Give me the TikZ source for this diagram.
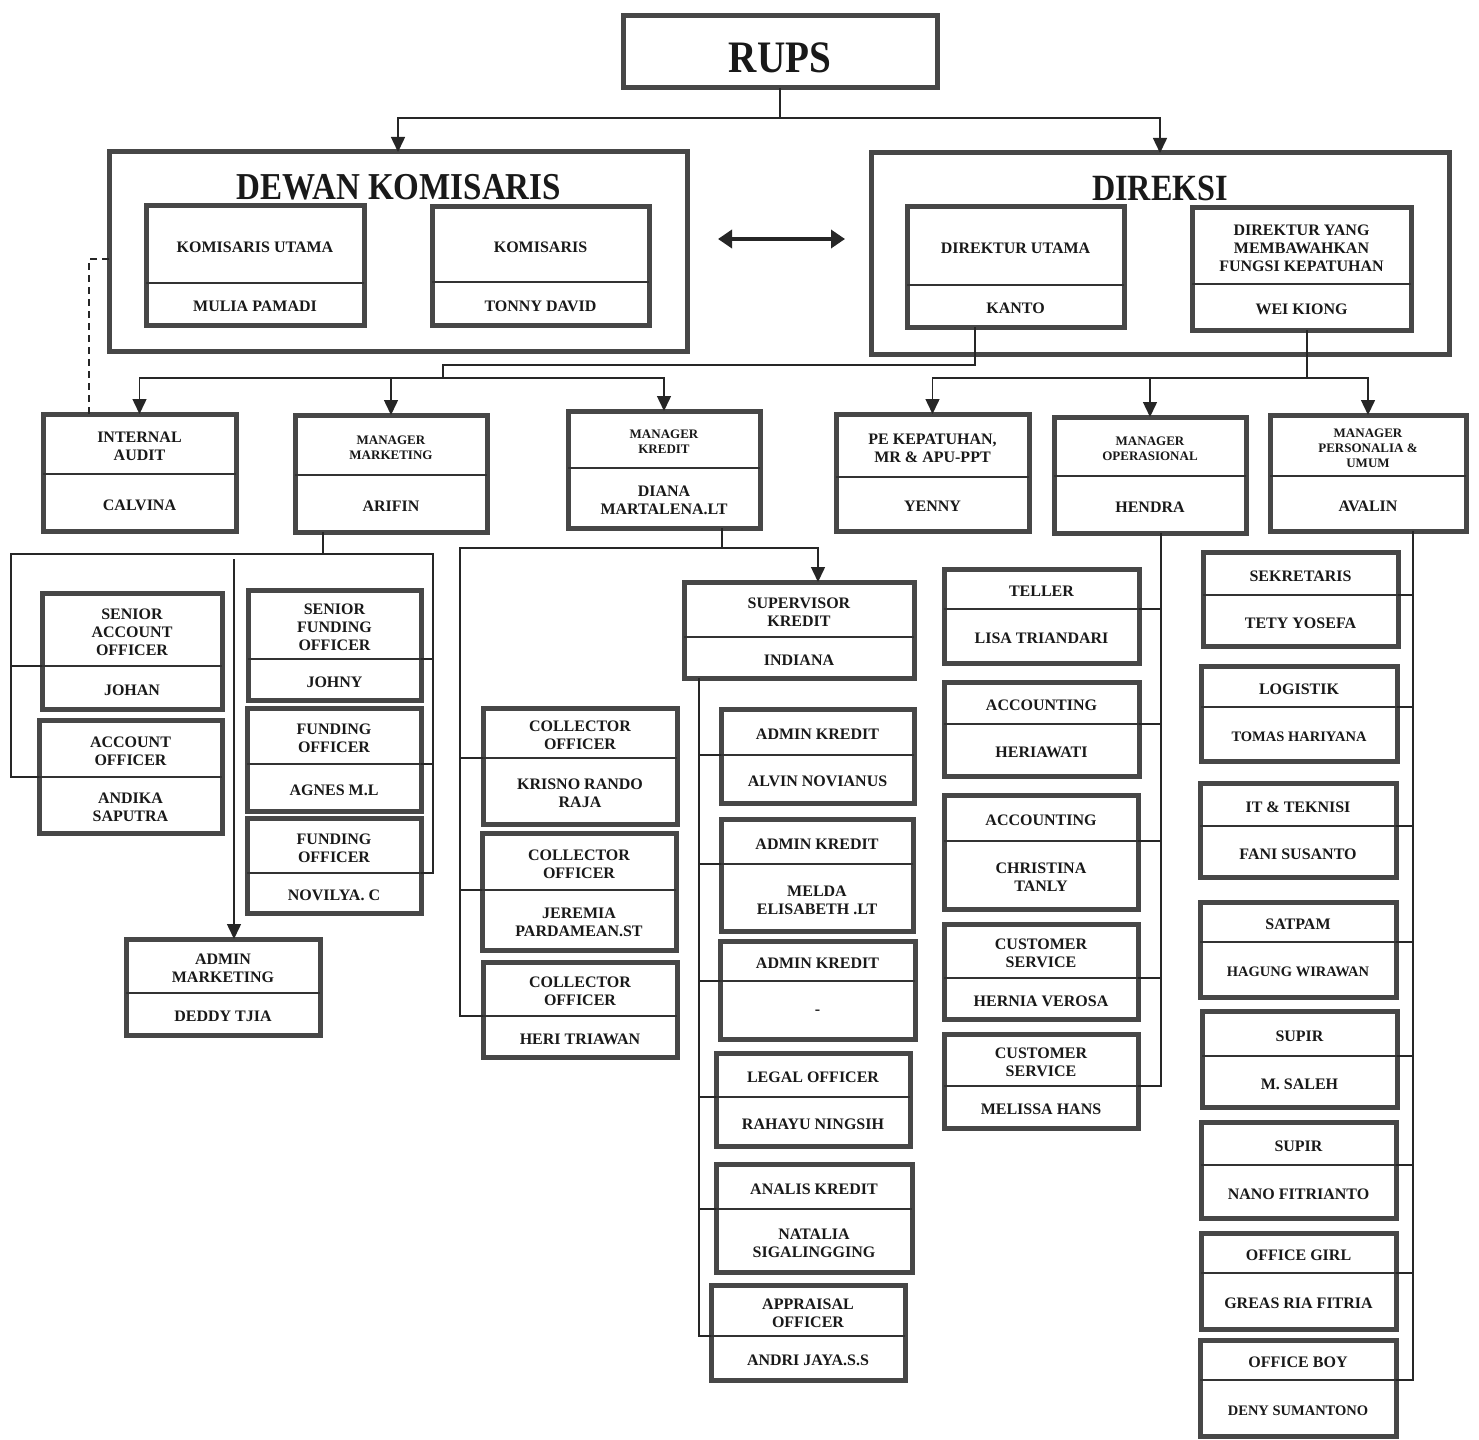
\documentclass[tikz,border=0pt]{standalone}
\usepackage{fontspec}
\setmainfont{Liberation Serif}
\newfontfamily\headfont[FakeStretch=0.87]{Liberation Serif}
\usetikzlibrary{arrows.meta,positioning}

\tikzset{
  frame/.style={draw=black!72, line width=5pt, fill=white, inner sep=0pt, outer sep=0pt},
  divider/.style={draw=black!80, line width=1.8pt},
  lbl/.style={align=center, inner sep=0pt, yshift=-2.5pt, text=black!90, font=\bfseries\fontsize{16}{18}\selectfont},
  link/.style={draw=black!85, line width=1.5pt},
  tip/.style={link, -{Triangle[width=14pt,length=15pt]}},
}
\newcommand{\mgr}{\fontsize{13}{15}\selectfont}
\newcommand{\sm}{\fontsize{14.5}{17}\selectfont}

% [title font] id, x1, y1, x2, y2, divider y, title, name
\newcommand{\jabatan}[9][]{%
  \node[frame, minimum width={(#5-#3)*1pt}, minimum height={(#6-#4)*1pt}] (#2) at ({(#3+#5)/2},{(#4+#6)/2}) {};
  \coordinate (#2-w) at (#3,#7);
  \coordinate (#2-e) at (#5,#7);
  \draw[divider] (#2-w) -- (#2-e);
  \node[lbl,#1] (#2-t) at ({(#3+#5)/2},{(#4+#7)/2}) {#8};
  \node[lbl] (#2-n) at ({(#3+#5)/2},{(#7+#6)/2}) {#9};
}

\begin{document}
\begin{tikzpicture}[x=1pt, y=-1pt]
\useasboundingbox (0,0) rectangle (1479,1439);

% top
\node[frame, minimum width=314pt, minimum height=72pt] (rups) at (780,52) {};
\node[lbl, font=\headfont\bfseries\fontsize{45}{48}\selectfont] (rups-t) at (780,55) {RUPS};

\node[frame, minimum width=578pt, minimum height=199pt] (dk) at (398,251.5) {};
\node[lbl, font=\headfont\bfseries\fontsize{38}{40}\selectfont] (dk-t) at (399,185) {DEWAN KOMISARIS};
\node[frame, minimum width=578pt, minimum height=201pt] (dr) at (1160,253.5) {};
\node[lbl, font=\headfont\bfseries\fontsize{37}{40}\selectfont] (dr-t) at (1160,186) {DIREKSI};

\jabatan{ku}{146}{206}{364}{325}{283}{KOMISARIS UTAMA}{MULIA PAMADI}
\jabatan{km}{432}{207}{649}{325}{282}{KOMISARIS}{TONNY DAVID}
\jabatan{du}{907}{207}{1124}{327}{285}{DIREKTUR UTAMA}{KANTO}
\jabatan{wk}{1192}{208}{1411}{330}{284}{DIREKTUR YANG\\MEMBAWAHKAN\\FUNGSI KEPATUHAN}{WEI KIONG}

% managers
\jabatan{ia}{43}{414}{236}{531}{474}{INTERNAL\\AUDIT}{CALVINA}
\jabatan[font=\bfseries\mgr]{mm}{295}{415}{487}{532}{475}{MANAGER\\MARKETING}{ARIFIN}
\jabatan[font=\bfseries\mgr]{mk}{568}{411}{760}{528}{468}{MANAGER\\KREDIT}{DIANA\\MARTALENA.LT}
\jabatan{pe}{836}{414}{1029}{531}{477}{PE KEPATUHAN,\\MR \& APU-PPT}{YENNY}
\jabatan[font=\bfseries\mgr]{mo}{1054}{417}{1246}{533}{476}{MANAGER\\OPERASIONAL}{HENDRA}
\jabatan[font=\bfseries\mgr]{mp}{1270}{415}{1466}{531}{476}{MANAGER\\PERSONALIA \&\\UMUM}{AVALIN}

% marketing
\jabatan{sao}{42}{593}{222}{709}{666}{SENIOR\\ACCOUNT\\OFFICER}{JOHAN}
\jabatan{ao}{39}{720}{222}{833}{777}{ACCOUNT\\OFFICER}{ANDIKA\\SAPUTRA}
\jabatan{sfo}{248}{590}{421}{700}{659}{SENIOR\\FUNDING\\OFFICER}{JOHNY}
\jabatan{fo1}{247}{708}{421}{811}{764}{FUNDING\\OFFICER}{AGNES M.L}
\jabatan{fo2}{247}{818}{421}{913}{873}{FUNDING\\OFFICER}{NOVILYA. C}
\jabatan{am}{126}{939}{320}{1035}{993}{ADMIN\\MARKETING}{DEDDY TJIA}

% kredit
\jabatan{sk}{684}{582}{914}{678}{637}{SUPERVISOR\\KREDIT}{INDIANA}
\jabatan{co1}{483}{708}{677}{824}{758}{COLLECTOR\\OFFICER}{KRISNO RANDO\\RAJA}
\jabatan{co2}{482}{833}{676}{950}{890}{COLLECTOR\\OFFICER}{JEREMIA\\PARDAMEAN.ST}
\jabatan{co3}{483}{962}{677}{1057}{1016}{COLLECTOR\\OFFICER}{HERI TRIAWAN}
\jabatan{ak1}{721}{709}{914}{803}{755}{ADMIN KREDIT}{ALVIN NOVIANUS}
\jabatan{ak2}{721}{819}{913}{931}{864}{ADMIN KREDIT}{MELDA\\ELISABETH .LT}
\jabatan{ak3}{720}{941}{915}{1039}{981}{ADMIN KREDIT}{-}
\jabatan{lo}{716}{1053}{910}{1146}{1097}{LEGAL OFFICER}{RAHAYU NINGSIH}
\jabatan{an}{716}{1164}{912}{1272}{1209}{ANALIS KREDIT}{NATALIA\\SIGALINGGING}
\jabatan{ap}{711}{1285}{905}{1380}{1336}{APPRAISAL\\OFFICER}{ANDRI JAYA.S.S}

% operasional
\jabatan{tl}{944}{569}{1139}{663}{609}{TELLER}{LISA TRIANDARI}
\jabatan{ac1}{944}{682}{1139}{776}{724}{ACCOUNTING}{HERIAWATI}
\jabatan{ac2}{944}{795}{1138}{909}{841}{ACCOUNTING}{CHRISTINA\\TANLY}
\jabatan{cs1}{944}{924}{1138}{1019}{978}{CUSTOMER\\SERVICE}{HERNIA VEROSA}
\jabatan{cs2}{944}{1034}{1138}{1128}{1086}{CUSTOMER\\SERVICE}{MELISSA HANS}

% personalia & umum
\jabatan{sek}{1203}{552}{1398}{646}{595}{SEKRETARIS}{TETY YOSEFA}
\jabatan{log}{1201}{666}{1397}{761}{707}{LOGISTIK}{\sm TOMAS HARIYANA}
\jabatan{it}{1200}{783}{1396}{877}{826}{IT \& TEKNISI}{FANI SUSANTO}
\jabatan{sat}{1200}{902}{1396}{997}{942}{SATPAM}{\sm HAGUNG WIRAWAN}
\jabatan{sp1}{1202}{1011}{1397}{1107}{1056}{SUPIR}{M. SALEH}
\jabatan{sp2}{1201}{1122}{1396}{1218}{1165}{SUPIR}{NANO FITRIANTO}
\jabatan{og}{1201}{1233}{1396}{1329}{1273}{OFFICE GIRL}{GREAS RIA FITRIA}
\jabatan{ob}{1200}{1340}{1396}{1436}{1380}{OFFICE BOY}{\sm DENY SUMANTONO}

% rups to boards
\coordinate (r0) at (780,118);
\draw[link] (rups.south) -- (r0);
\draw[tip] (r0) -| (dk.north);
\draw[tip] (r0) -| (dr.north);
\coordinate (bd-l) at (718,239);
\coordinate (bd-r) at (845,239);
\draw[link, line width=3.5pt, {Triangle[width=18pt,length=14pt]}-{Triangle[width=18pt,length=14pt]}] (bd-l) -- (bd-r);
\coordinate (dk-a) at (109,259);
\coordinate (ia-a) at (89,414);
\draw[link, dash pattern=on 7pt off 5pt] (dk-a) -| (ia-a);

% direksi to managers
\coordinate (j1) at (975,365);
\coordinate (j2) at (443,365);
\coordinate (j3) at (443,378);
\draw[link] (du.south -| j1) -- (j1) -- (j2) -- (j3);
\draw[tip] (j3) -| (ia.north);
\draw[tip] (j3) -| (mm.north);
\draw[tip] (j3) -| (mk.north);
\coordinate (j4) at (1307,378);
\draw[link] (wk.south -| j4) -- (j4);
\draw[tip] (j4) -| (pe.north);
\draw[tip] (j4) -| (mo.north);
\draw[tip] (j4) -| (mp.north);

% marketing lines
\coordinate (m0) at (323,554);
\coordinate (ml) at (11,554);
\coordinate (mr) at (433,554);
\draw[link] (mm.south -| m0) -- (m0);
\draw[link] (ao-w) -| (ml) -- (mr) |- (fo2-e);
\draw[link] (sao-w -| ml) -- (sao-w);
\draw[link] (sfo-e -| mr) -- (sfo-e);
\draw[link] (fo1-e -| mr) -- (fo1-e);
\coordinate (ma) at (234,559);
\draw[tip] (ma) -- (ma |- am.north);

% kredit lines
\coordinate (k0) at (722,548);
\coordinate (kl) at (460,548);
\coordinate (k1) at (818,548);
\draw[link] (mk.south -| k0) -- (k0);
\draw[link] (co3-w) -| (kl) -- (k0);
\draw[tip] (k0) -- (k1) -- (k1 |- sk.north);
\draw[link] (co1-w -| kl) -- (co1-w);
\draw[link] (co2-w -| kl) -- (co2-w);
\coordinate (s0) at (699,678);
\draw[link] (s0) |- (ap-w);
\draw[link] (ak1-w -| s0) -- (ak1-w);
\draw[link] (ak2-w -| s0) -- (ak2-w);
\draw[link] (ak3-w -| s0) -- (ak3-w);
\draw[link] (lo-w -| s0) -- (lo-w);
\draw[link] (an-w -| s0) -- (an-w);

% operasional lines
\coordinate (o0) at (1161,533);
\draw[link] (o0) |- (cs2-e);
\draw[link] (tl-e -| o0) -- (tl-e);
\draw[link] (ac1-e -| o0) -- (ac1-e);
\draw[link] (ac2-e -| o0) -- (ac2-e);
\draw[link] (cs1-e -| o0) -- (cs1-e);

% personalia lines
\coordinate (p0) at (1413,531);
\draw[link] (p0) |- (ob-e);
\draw[link] (sek-e -| p0) -- (sek-e);
\draw[link] (log-e -| p0) -- (log-e);
\draw[link] (it-e -| p0) -- (it-e);
\draw[link] (sat-e -| p0) -- (sat-e);
\draw[link] (sp1-e -| p0) -- (sp1-e);
\draw[link] (sp2-e -| p0) -- (sp2-e);
\draw[link] (og-e -| p0) -- (og-e);
\end{tikzpicture}
\end{document}
